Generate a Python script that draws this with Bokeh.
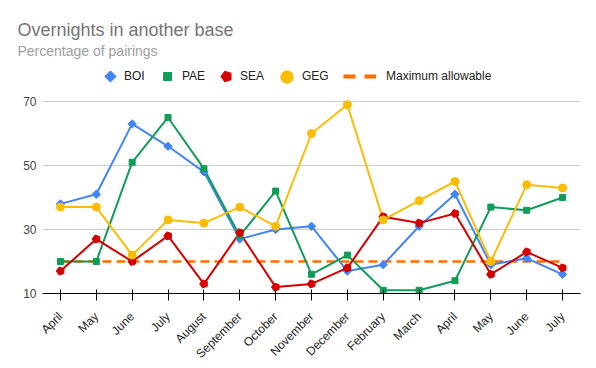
import math
from bokeh.plotting import figure
from bokeh.models import (Range1d, FixedTicker, Legend, LegendItem, Title, ColumnDataSource)
from bokeh.embed import file_html
from bokeh.resources import INLINE

months = ["April", "May", "June", "July", "August", "September", "October",
          "November", "December", "February", "March", "April", "May", "June", "July"]
boi = [38, 41, 63, 56, 48, 27, 30, 31, 17, 19, 31, 41, 19, 21, 16]
pae = [20, 20, 51, 65, 49, 28, 42, 16, 22, 11, 11, 14, 37, 36, 40]
sea = [17, 27, 20, 28, 13, 29, 12, 13, 18, 34, 32, 35, 16, 23, 18]
geg = [37, 37, 22, 33, 32, 37, 31, 60, 69, 33, 39, 45, 20, 44, 43]
max_allow = [20] * 15
y_ticks = [10, 30, 50, 70]

idx = list(range(len(months)))
src = ColumnDataSource(dict(x=idx, boi=boi, pae=pae, sea=sea, geg=geg, mx=max_allow))

FONT = "Liberation Sans"
BLUE, GREEN, RED, YELLOW, ORANGE = "#4285f4", "#0f9d58", "#d50000", "#fbbc04", "#ff6d01"

# frame: 538 x 237 px; 70 gridline sits 45 px below frame top (room for the legend row)
p = figure(width=596, height=368, output_backend="svg", toolbar_location=None,
           x_range=Range1d(-0.5, len(months) - 0.5), y_range=Range1d(10, 84.06),
           title=None, min_border_left=42, min_border_right=16, min_border_bottom=75,
           min_border_top=56)
p.outline_line_color = None
p.background_fill_color = "white"
p.border_fill_color = "white"

# lines
p.line("x", "mx", source=src, color=ORANGE, line_width=2.5, line_dash="9 5")
p.line("x", "boi", source=src, color=BLUE, line_width=2)
p.line("x", "pae", source=src, color=GREEN, line_width=2)
p.line("x", "sea", source=src, color=RED, line_width=2)
p.line("x", "geg", source=src, color=YELLOW, line_width=2)

m_boi = p.ngon(x="x", y="boi", source=src, radius=4.2, radius_units="screen", n=4,
               angle=math.pi / 2, fill_color=BLUE, line_color=BLUE)
m_pae = p.scatter("x", "pae", source=src, marker="square", size=6, color=GREEN)
m_sea = p.ngon(x="x", y="sea", source=src, radius=4.2, radius_units="screen", n=5,
               angle=math.pi / 2, fill_color=RED, line_color=RED)
m_geg = p.scatter("x", "geg", source=src, marker="circle", size=8, color=YELLOW)
# legend-only proxy for the threshold key (no data points drawn)
l_key = p.line(x=[float("nan")], y=[float("nan")], color=ORANGE, line_width=4, line_dash="12 9")

# axes
xa = p.xaxis[0]
xa.ticker = FixedTicker(ticks=idx)
xa.major_label_overrides = {i: m for i, m in enumerate(months)}
xa.major_label_orientation = math.pi / 4
xa.axis_line_color = "black"
xa.major_tick_line_color = "black"
xa.major_tick_in = 4
xa.major_tick_out = 7
xa.minor_tick_line_color = None
xa.major_label_text_font = FONT
xa.major_label_text_font_size = "12px"
xa.major_label_text_color = "#222222"
xa.major_label_standoff = 14

ya = p.yaxis[0]
ya.ticker = FixedTicker(ticks=y_ticks)
ya.axis_line_color = None
ya.major_tick_line_color = None
ya.minor_tick_line_color = None
ya.major_tick_in = 0
ya.major_tick_out = 0
ya.major_label_text_font = FONT
ya.major_label_text_font_size = "12px"
ya.major_label_text_color = "#444444"
ya.major_label_standoff = 6

p.xgrid.grid_line_color = None
p.ygrid.grid_line_color = "#cccccc"


def key(label, rend, x, gw, gh, standoff):
    lg = Legend(items=[LegendItem(label=label, renderers=[rend])],
                orientation="horizontal", location=(x, 217 - gh / 2),
                border_line_color=None, background_fill_alpha=0, padding=0, margin=0,
                glyph_width=gw, glyph_height=gh, label_height=gh, label_standoff=standoff,
                label_text_font=FONT, label_text_font_size="12px", label_text_color="#222222")
    p.add_layout(lg, "center")


key("BOI", m_boi, 54, 28, 28, 0)
key("PAE", m_pae, 115, 20, 20, 5)
key("SEA", m_sea, 170, 28, 28, 0)
key("GEG", m_geg, 229, 31, 31, 0)
key("Maximum allowable", l_key, 301, 33, 20, 10)

p.add_layout(Title(text="Percentage of pairings", text_font=FONT, text_font_size="14px",
                   text_font_style="normal", text_color="#9e9e9e", align="left",
                   offset=-25, standoff=-4), "above")
p.add_layout(Title(text="Overnights in another base", text_font=FONT, text_font_size="18px",
                   text_font_style="normal", text_color="#757575", align="left",
                   offset=-25, standoff=5), "above")

open("out.html", "w").write(file_html(p, INLINE))
